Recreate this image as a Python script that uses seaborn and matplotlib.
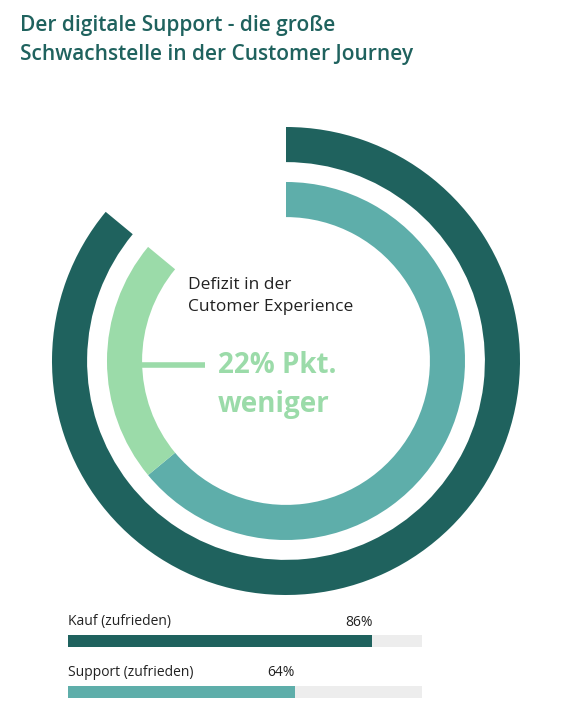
import matplotlib
matplotlib.use("Agg")
import matplotlib.pyplot as plt
import seaborn as sns

sns.set_theme(style="white")
plt.rcParams['font.family'] = ['Open Sans', 'DejaVu Sans']

categories = ["Kauf (zufrieden)", "Support (zufrieden)"]
values = [86, 64]
deficit = 22
title = "Der digitale Support - die große\nSchwachstelle in der Customer Journey"

DARK = "#1f625e"; TEAL = "#5eaeaa"; LIGHT = "#9bdba9"; GRAY = "#ededed"

fig = plt.figure(figsize=(5.64, 7.05), dpi=100)
fig.patch.set_facecolor("white")
fig.text(20/564, 1-40/705, title, fontsize=15, fontweight="semibold", color=DARK,
         va="center", ha="left", linespacing=1.55)

ax = fig.add_axes([52/564, (705-595)/705, 468/564, 468/705])
ax.pie([values[0], 100-values[0]], radius=1.0, startangle=90, counterclock=False,
       colors=[DARK, "none"], wedgeprops=dict(width=0.15, linewidth=0))
ax.pie([values[1], deficit, 100-values[1]-deficit], radius=0.765, startangle=90,
       counterclock=False, colors=[TEAL, LIGHT, "none"], wedgeprops=dict(width=0.15, linewidth=0))
ax.set_aspect("equal")
ax.set_xlim(-1, 1); ax.set_ylim(-1, 1)
ax.axis("off")
s = 1/234
ax.plot([(140-286)*s, (205-286)*s], [(361-365)*s]*2, color=LIGHT, lw=4, solid_capstyle="butt")
ax.text((188-286)*s, (361-296)*s, "Defizit in der\nCutomer Experience", fontsize=12.5,
        color="#222222", ha="left", va="center", linespacing=1.5)
ax.text((218-286)*s, (361-385)*s, f"{deficit}% Pkt.\nweniger", fontsize=20, fontweight="bold",
        color=LIGHT, ha="left", va="center", linespacing=1.45)

bx = fig.add_axes([68/564, 5/705, 354/564, 85/705])
ys = [26, 77]
bx.barh(ys, [100]*2, height=12, color=GRAY, linewidth=0)
bx.barh(ys, values, height=12, color=[DARK, TEAL], linewidth=0)
for y, c, v in zip(ys, categories, values):
    bx.text(0, y-19, c, fontsize=10, color="#222222", ha="left", va="center")
    bx.text(v, y-19, f"{v}%", fontsize=10, color="#222222", ha="right", va="center")
bx.set_xlim(0, 100); bx.set_ylim(85, 0)
bx.axis("off")

fig.savefig("out.png", dpi=100, facecolor="white")
